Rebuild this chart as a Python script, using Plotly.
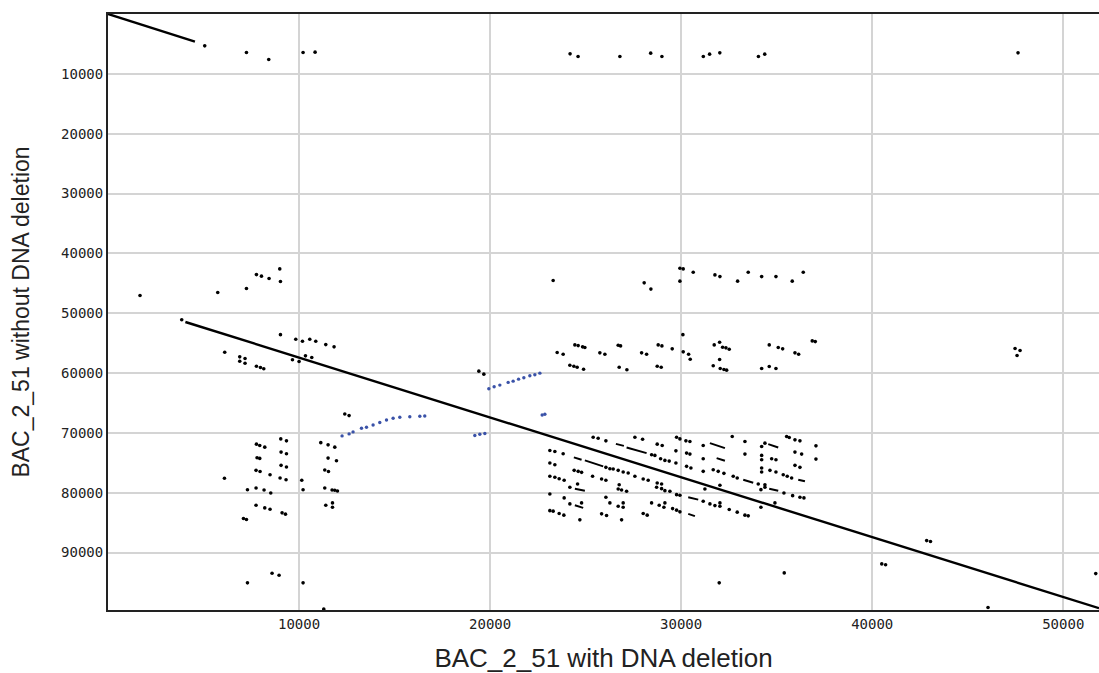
import plotly.graph_objects as go

# ---- axis extents (bp) ----
x_len = 51870
y_len = 99600

# ---- main alignment segments (forward) ----
seg1_x = [0, 4550]
seg1_y = [0, 4600]
seg2_x = [4050, 51870]
seg2_y = [51470, 99290]

# ---- short forward matches (dots) ----
dot_x = [5063, 7247, 8414, 10210, 10839, 24185, 24604, 26793, 28405, 28992, 31159, 31489, 32023, 34044, 34374, 47632,
         1676, 5744, 7247, 7770, 8032, 8430, 8990, 9027, 3859,
         9027, 9828, 10179, 10561, 10875, 11399, 11833, 6110, 6896, 7173, 6896, 7173, 7770, 7980, 8153, 10336, 10666, 9655, 10001, 12394, 12619,
         7770, 7943, 8205, 9043, 9341, 11137, 11519, 11870, 7802, 7943, 9058, 9341, 11519, 11959, 7749, 7959, 8482, 9058, 9341, 11346, 11540,
         6095, 9006, 9320, 10142, 7299, 7749, 8168, 8519, 10210, 11346, 11729, 11870, 12011, 7749, 8205, 8482, 9111, 9289, 7090, 7247,
         11399, 11750, 11750, 8587, 8954, 7299, 10210, 11294,
         25395, 25656, 26060, 27578, 27981, 28452, 28625, 28746, 29008, 28924, 29149, 29374, 29760, 29934, 30248, 30458, 29725, 29725,
         30283, 30458, 30283, 30510, 31154, 32673, 33338, 31154, 31154, 31678, 31940, 32238, 32725, 32934, 33338, 34034, 34212, 34385,
         34212, 34212, 34736, 34961, 34212, 34212, 34647, 34961, 35343, 35552, 35783, 35521, 35657, 35956, 36217, 35956, 36306, 35956,
         36217, 37055, 37055, 34385, 34175, 34385, 35380, 35835, 36217, 36427, 34908, 34175,
         23127, 23389, 23824, 23127, 23389, 23127, 23389, 23614, 23876, 26060, 26269, 26442, 26704, 26965, 27227, 27578, 28013, 28274,
         28976, 24400, 24609, 24787, 25363, 25835, 26060, 24175, 24578, 26704, 26882, 26756, 27144, 28714, 28976, 29149, 29411, 28746,
         29760, 29934, 23127, 23876, 24175, 24787, 26060, 26269, 26704, 26965, 26965, 28452, 28850, 29097, 29149, 29552, 29760, 29934,
         23127, 23300, 23614, 23860, 24698, 25835, 26095, 26882, 28013, 28223, 31154, 31505, 31767, 32029, 32029, 32516, 32934, 33338,
         33510, 31243, 32029, 31992, 35395,
         23300, 28065, 28416, 29934, 30107, 29934, 30631, 31767, 32029, 32955, 33510, 34212, 34961, 35814, 36390,
         30091, 23510, 23824, 24436, 24609, 24840, 24960, 25745, 26007, 26704, 26829, 27929, 28191, 28798, 28992, 29531, 30107, 30390,
         30474, 24175, 24384, 24557, 24892, 26756, 27159, 28746, 28955, 31730, 32013, 32170, 32343, 32516, 32013, 31678, 32044, 32238,
         32380, 34212, 34610, 34961, 34610, 35081, 35312, 35956, 36149, 36861, 37019,
         19410, 19672,
         46061, 51700, 47476, 47738, 47581, 40500, 40700, 42850, 43050]
dot_y = [5325, 6440, 7605, 6440, 6373, 6656, 7105, 7105, 6540, 7105, 7105, 6706, 6490, 7105, 6706, 6490,
         47041, 46542, 45876, 43547, 43813, 44212, 42598, 44712, 51085,
         53581, 54363, 54696, 54363, 54696, 55245, 55628, 56526, 57292, 57574, 58024, 58356, 58856, 59072, 59288, 57125, 57408, 57791, 58074, 66843, 67109,
         71885, 72101, 72384, 71003, 71336, 71635, 72001, 72384, 74164, 74264, 73216, 73499, 74214, 74664, 76261, 76461, 76993, 75429, 75712, 76211, 76461,
         77592, 77542, 77825, 77925, 79506, 79206, 79539, 80038, 79506, 79206, 79539, 79589, 79706, 82085, 82534, 82751, 83366, 83583, 84315, 84481,
         82085, 81702, 82418, 93467, 93800, 95064, 95064, 99450,
         70720, 70886, 71336, 70720, 71053, 73665, 73765, 71885, 72101, 74331, 74597, 74714, 70720, 71003, 71336, 71436, 73000, 75046,
         73382, 73549, 75596, 75878, 72101, 70604, 71436, 74331, 76427, 76161, 76427, 76760, 77260, 77542, 73549, 78541, 72268, 71718,
         73765, 74497, 74331, 74497, 75878, 76544, 76261, 76544, 76993, 77260, 77542, 70604, 70770, 71169, 71336, 73216, 73549, 75429,
         75762, 72168, 74381, 78657, 79489, 79090, 80038, 80488, 80754, 80870, 81702, 82418,
         72933, 73100, 73499, 75046, 75329, 77260, 77426, 77659, 77925, 75762, 75995, 76045, 76261, 76544, 76710, 77260, 77709, 77925,
         78541, 76261, 76427, 76594, 77260, 77709, 77925, 79090, 78541, 79373, 79539, 78657, 79756, 79090, 79323, 79656, 79756, 78374,
         80321, 80421, 80205, 80870, 81869, 81702, 80754, 81702, 82252, 82418, 81702, 81702, 82085, 82418, 81702, 82651, 82917, 83200,
         83000, 83084, 83483, 83750, 84531, 83533, 83816, 84531, 83483, 83750, 81420, 81869, 82152, 82252, 81702, 82817, 83250, 83750,
         83866, 79373, 78757, 95064, 93400,
         44545, 44928, 45976, 42482, 42598, 44645, 43148, 43597, 43880, 44645, 43148, 43880, 43880, 44645, 43148,
         53581, 56576, 56859, 55295, 55411, 55628, 55744, 56626, 56859, 55361, 55461, 56626, 56859, 55295, 55461, 55960, 56460, 56859,
         57691, 58689, 58856, 59022, 59355, 59022, 59455, 58856, 59022, 55295, 54862, 55694, 55794, 56027, 57741, 58789, 59238, 59405,
         59521, 59238, 58906, 59238, 55295, 55744, 55960, 56626, 56859, 54629, 54746,
         59688, 60187,
         99174, 93517, 55910, 56243, 57075, 91900, 92050, 88000, 88150]

# ---- short forward matches drawn as dashes (start/end pairs) ----
dash_x0 = [26583, 27144, 24384, 24960, 31505, 31856, 33249, 34558, 36128, 34610, 24436, 24436, 30369, 30369]
dash_x1 = [27002, 28191, 24787, 25918, 32290, 32290, 33772, 35081, 36479, 35081, 24960, 24871, 30892, 30720]
dash_y0 = [71835, 72434, 74098, 74597, 71718, 74214, 77825, 71885, 77825, 79323, 79323, 82085, 80754, 83533]
dash_y1 = [72168, 73382, 74497, 75596, 72550, 74664, 78324, 72434, 78092, 79656, 79656, 82534, 81153, 83916]

# ---- reverse-complement matches (blue) ----
rev_x = [12252, 12619, 12828, 13268, 13530, 13875, 14226, 14577, 14923, 15273, 15797, 16321, 16580,
         19933, 20211, 20510, 20944, 21206, 21489, 21766, 22080, 22342, 22604,
         22724, 22866, 19200, 19462, 19724]
rev_y = [70504, 70171, 69838, 69222, 69056, 68673, 68274, 67841, 67558, 67392, 67309, 67226, 67180,
         62617, 62284, 62017, 61568, 61352, 61019, 60786, 60453, 60287, 60020,
         67009, 66893, 70437, 70221, 70104]

x_ticks = [10000, 20000, 30000, 40000, 50000]
y_ticks = [10000, 20000, 30000, 40000, 50000, 60000, 70000, 80000, 90000]

fig = go.Figure()

# dashes
dx, dy = [], []
for a, b, c, d in zip(dash_x0, dash_x1, dash_y0, dash_y1):
    dx += [a, b, None]
    dy += [c, d, None]
fig.add_trace(go.Scatter(x=dx, y=dy, mode="lines", line=dict(color="black", width=2.0),
                         hoverinfo="skip", showlegend=False))
fig.add_trace(go.Scatter(x=dot_x, y=dot_y, mode="markers",
                         marker=dict(color="black", size=3.6, line=dict(width=0)),
                         showlegend=False))
fig.add_trace(go.Scatter(x=rev_x, y=rev_y, mode="markers",
                         marker=dict(color="#3a52a8", size=3.4, line=dict(width=0)),
                         showlegend=False))
for sx, sy in ((seg1_x, seg1_y), (seg2_x, seg2_y)):
    fig.add_trace(go.Scatter(x=sx, y=sy, mode="lines", line=dict(color="black", width=2.4),
                             showlegend=False))

tick_font = dict(family="DejaVu Sans Mono", size=14, color="#222222")
xtitle_font = dict(family="Liberation Sans, Arial", size=26, color="#222222")
ytitle_font = dict(family="Liberation Sans, Arial", size=23, color="#222222")

fig.update_layout(
    width=1099, height=673,
    margin=dict(l=108, r=0, t=14, b=61),
    paper_bgcolor="white", plot_bgcolor="white",
    xaxis=dict(range=[0, x_len], tickvals=x_ticks, ticktext=[str(v) for v in x_ticks],
               showgrid=True, gridcolor="#d4d4d4", gridwidth=2, zeroline=False,
               showline=True, linecolor="#222222", linewidth=2, mirror=True,
               ticks="", tickfont=tick_font,
               title=dict(text="BAC_2_51 with DNA deletion", font=xtitle_font, standoff=23)),
    yaxis=dict(range=[y_len, 0], tickvals=y_ticks, ticktext=[str(v) for v in y_ticks],
               showgrid=True, gridcolor="#d4d4d4", gridwidth=2, zeroline=False,
               showline=True, linecolor="#222222", linewidth=2, mirror=False,
               ticks="", tickfont=tick_font,
               title=dict(text="BAC_2_51 without DNA deletion", font=ytitle_font, standoff=25)),
)

fig.write_html("out.html")
